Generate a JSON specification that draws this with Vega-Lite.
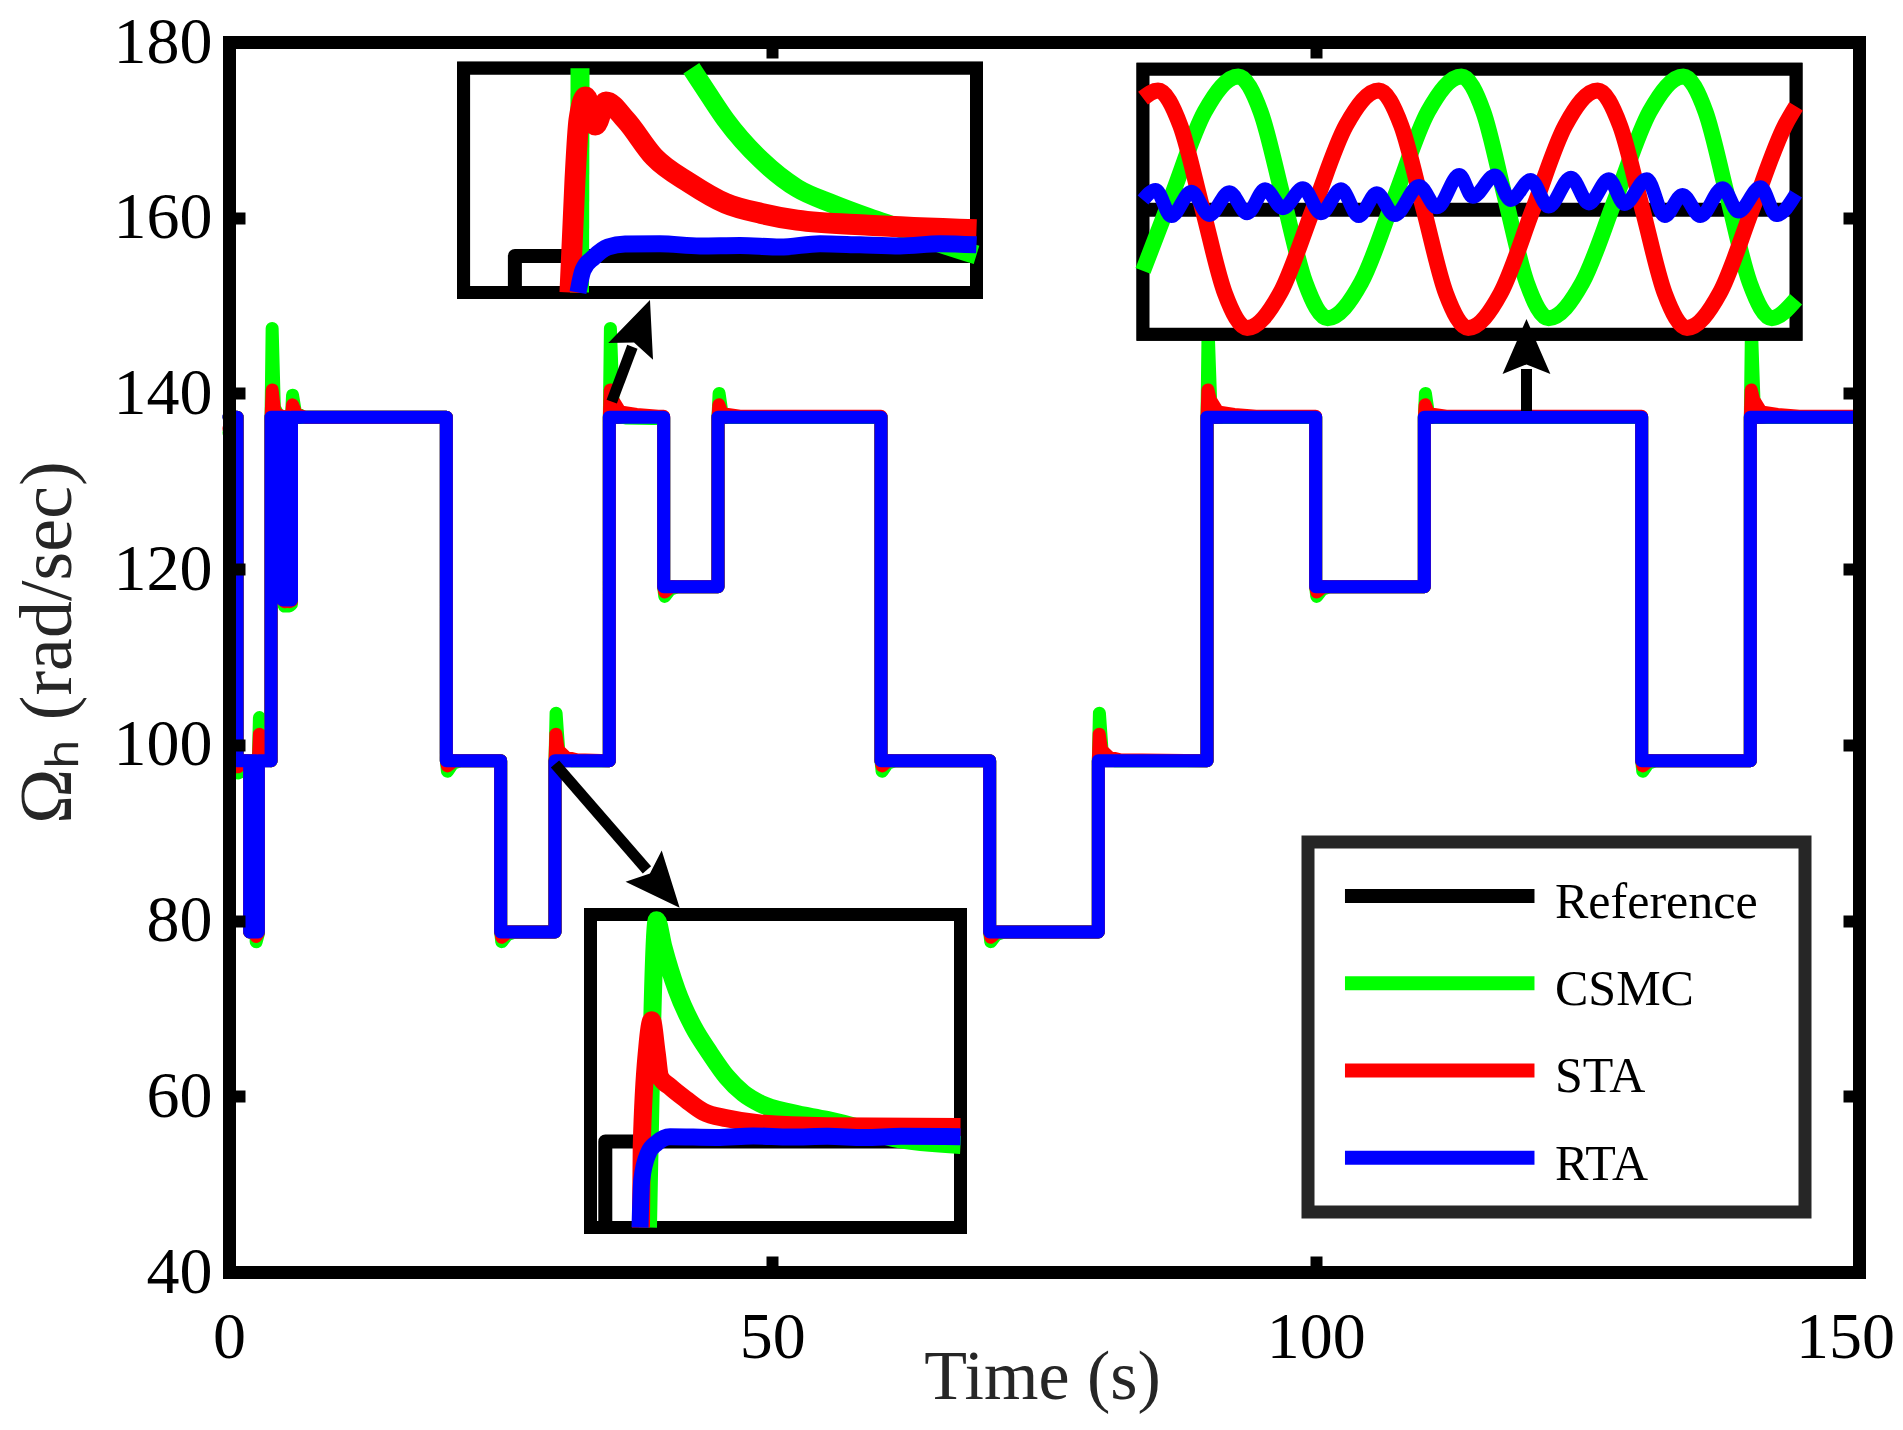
{
"$schema": "https://vega.github.io/schema/vega-lite/v6.json",
"width": 1630, "height": 1230,
"autosize": {"type": "none"},
"padding": {"left": 229, "top": 42, "right": 44, "bottom": 158},
"background": "white",
"config": {"font": "Liberation Serif", "view": {"stroke": null}, "legend": {"disable": true}},
"datasets": {
"main": [
{"s":"Reference","t":0,"v":137.3},{"s":"Reference","t":0.74,"v":137.3},{"s":"Reference","t":0.74,"v":98.2},{"s":"Reference","t":1.9,"v":98.2},{"s":"Reference","t":1.9,"v":78.7},{"s":"Reference","t":2.05,"v":78.7},{"s":"Reference","t":2.05,"v":98.2},{"s":"Reference","t":2.2,"v":98.2},{"s":"Reference","t":2.2,"v":78.7},{"s":"Reference","t":2.35,"v":78.7},{"s":"Reference","t":2.35,"v":98.2},{"s":"Reference","t":2.5,"v":98.2},{"s":"Reference","t":2.5,"v":78.7},{"s":"Reference","t":2.7,"v":78.7},{"s":"Reference","t":2.7,"v":98.2},{"s":"Reference","t":3.87,"v":98.2},{"s":"Reference","t":3.87,"v":137.3},{"s":"Reference","t":4.95,"v":137.3},{"s":"Reference","t":4.95,"v":116.5},{"s":"Reference","t":5.1,"v":116.5},{"s":"Reference","t":5.1,"v":137.3},{"s":"Reference","t":5.25,"v":137.3},{"s":"Reference","t":5.25,"v":116.5},{"s":"Reference","t":5.4,"v":116.5},{"s":"Reference","t":5.4,"v":137.3},{"s":"Reference","t":5.55,"v":137.3},{"s":"Reference","t":5.55,"v":116.5},{"s":"Reference","t":5.75,"v":116.5},{"s":"Reference","t":5.75,"v":137.3},{"s":"Reference","t":20,"v":137.3},{"s":"Reference","t":20,"v":98.2},{"s":"Reference","t":25,"v":98.2},{"s":"Reference","t":25,"v":78.7},{"s":"Reference","t":30,"v":78.7},{"s":"Reference","t":30,"v":98.2},{"s":"Reference","t":35,"v":98.2},{"s":"Reference","t":35,"v":137.3},{"s":"Reference","t":40,"v":137.3},{"s":"Reference","t":40,"v":118},{"s":"Reference","t":45,"v":118},{"s":"Reference","t":45,"v":137.3},{"s":"Reference","t":60,"v":137.3},{"s":"Reference","t":60,"v":98.2},{"s":"Reference","t":70,"v":98.2},{"s":"Reference","t":70,"v":78.7},{"s":"Reference","t":80,"v":78.7},{"s":"Reference","t":80,"v":98.2},{"s":"Reference","t":90,"v":98.2},{"s":"Reference","t":90,"v":137.3},{"s":"Reference","t":100,"v":137.3},{"s":"Reference","t":100,"v":118},{"s":"Reference","t":110,"v":118},{"s":"Reference","t":110,"v":137.3},{"s":"Reference","t":130,"v":137.3},{"s":"Reference","t":130,"v":98.2},{"s":"Reference","t":140,"v":98.2},{"s":"Reference","t":140,"v":137.3},{"s":"Reference","t":150,"v":137.3},
{"s":"RTA","t":0,"v":137.3},{"s":"RTA","t":0.74,"v":137.3},{"s":"RTA","t":0.74,"v":98.2},{"s":"RTA","t":1.9,"v":98.2},{"s":"RTA","t":1.9,"v":78.7},{"s":"RTA","t":2.05,"v":78.7},{"s":"RTA","t":2.05,"v":98.2},{"s":"RTA","t":2.2,"v":98.2},{"s":"RTA","t":2.2,"v":78.7},{"s":"RTA","t":2.35,"v":78.7},{"s":"RTA","t":2.35,"v":98.2},{"s":"RTA","t":2.5,"v":98.2},{"s":"RTA","t":2.5,"v":78.7},{"s":"RTA","t":2.7,"v":78.7},{"s":"RTA","t":2.7,"v":98.2},{"s":"RTA","t":3.87,"v":98.2},{"s":"RTA","t":3.87,"v":137.3},{"s":"RTA","t":4.95,"v":137.3},{"s":"RTA","t":4.95,"v":116.5},{"s":"RTA","t":5.1,"v":116.5},{"s":"RTA","t":5.1,"v":137.3},{"s":"RTA","t":5.25,"v":137.3},{"s":"RTA","t":5.25,"v":116.5},{"s":"RTA","t":5.4,"v":116.5},{"s":"RTA","t":5.4,"v":137.3},{"s":"RTA","t":5.55,"v":137.3},{"s":"RTA","t":5.55,"v":116.5},{"s":"RTA","t":5.75,"v":116.5},{"s":"RTA","t":5.75,"v":137.3},{"s":"RTA","t":20,"v":137.3},{"s":"RTA","t":20,"v":98.2},{"s":"RTA","t":25,"v":98.2},{"s":"RTA","t":25,"v":78.7},{"s":"RTA","t":30,"v":78.7},{"s":"RTA","t":30,"v":98.2},{"s":"RTA","t":35,"v":98.2},{"s":"RTA","t":35,"v":137.3},{"s":"RTA","t":40,"v":137.3},{"s":"RTA","t":40,"v":118},{"s":"RTA","t":45,"v":118},{"s":"RTA","t":45,"v":137.3},{"s":"RTA","t":60,"v":137.3},{"s":"RTA","t":60,"v":98.2},{"s":"RTA","t":70,"v":98.2},{"s":"RTA","t":70,"v":78.7},{"s":"RTA","t":80,"v":78.7},{"s":"RTA","t":80,"v":98.2},{"s":"RTA","t":90,"v":98.2},{"s":"RTA","t":90,"v":137.3},{"s":"RTA","t":100,"v":137.3},{"s":"RTA","t":100,"v":118},{"s":"RTA","t":110,"v":118},{"s":"RTA","t":110,"v":137.3},{"s":"RTA","t":130,"v":137.3},{"s":"RTA","t":130,"v":98.2},{"s":"RTA","t":140,"v":98.2},{"s":"RTA","t":140,"v":137.3},{"s":"RTA","t":150,"v":137.3},
{"s":"CSMC","t":0,"v":135.5},{"s":"CSMC","t":0.25,"v":137.3},{"s":"CSMC","t":0.74,"v":137.3},{"s":"CSMC","t":0.74,"v":98.2},{"s":"CSMC","t":0.84,"v":96.8},{"s":"CSMC","t":1.2,"v":98.0},{"s":"CSMC","t":1.9,"v":98.2},{"s":"CSMC","t":1.9,"v":78.7},{"s":"CSMC","t":2.05,"v":78.7},{"s":"CSMC","t":2.05,"v":98.2},{"s":"CSMC","t":2.2,"v":98.2},{"s":"CSMC","t":2.2,"v":78.7},{"s":"CSMC","t":2.35,"v":78.7},{"s":"CSMC","t":2.35,"v":98.2},{"s":"CSMC","t":2.5,"v":98.2},{"s":"CSMC","t":2.5,"v":77.6},{"s":"CSMC","t":2.7,"v":78.5},{"s":"CSMC","t":2.7,"v":98.2},{"s":"CSMC","t":2.8,"v":103.1},{"s":"CSMC","t":3.0,"v":98.9},{"s":"CSMC","t":3.4,"v":98.3},{"s":"CSMC","t":3.87,"v":98.2},{"s":"CSMC","t":3.87,"v":137.3},{"s":"CSMC","t":3.97,"v":147.4},{"s":"CSMC","t":4.17,"v":138.4},{"s":"CSMC","t":4.6,"v":137.4},{"s":"CSMC","t":4.95,"v":137.3},{"s":"CSMC","t":4.95,"v":116.5},{"s":"CSMC","t":5.1,"v":115.8},{"s":"CSMC","t":5.1,"v":137.3},{"s":"CSMC","t":5.25,"v":137.3},{"s":"CSMC","t":5.25,"v":115.8},{"s":"CSMC","t":5.4,"v":116.0},{"s":"CSMC","t":5.4,"v":137.3},{"s":"CSMC","t":5.55,"v":137.3},{"s":"CSMC","t":5.55,"v":115.8},{"s":"CSMC","t":5.75,"v":116.0},{"s":"CSMC","t":5.75,"v":137.3},{"s":"CSMC","t":5.85,"v":139.8},{"s":"CSMC","t":6.1,"v":137.9},{"s":"CSMC","t":6.8,"v":137.3},
{"s":"CSMC","t":20,"v":137.3},{"s":"CSMC","t":20,"v":98.2},{"s":"CSMC","t":20.1,"v":97.0},{"s":"CSMC","t":20.6,"v":97.9},{"s":"CSMC","t":21.3,"v":98.2},
{"s":"CSMC","t":25,"v":98.2},{"s":"CSMC","t":25,"v":78.7},{"s":"CSMC","t":25.1,"v":77.6},{"s":"CSMC","t":25.6,"v":78.4},{"s":"CSMC","t":26.3,"v":78.7},
{"s":"CSMC","t":30,"v":78.7},{"s":"CSMC","t":30,"v":98.2},{"s":"CSMC","t":30.1,"v":103.6},{"s":"CSMC","t":30.35,"v":99.2},{"s":"CSMC","t":30.8,"v":98.4},{"s":"CSMC","t":31.5,"v":98.2},
{"s":"CSMC","t":35,"v":98.2},{"s":"CSMC","t":35,"v":137.3},{"s":"CSMC","t":35.1,"v":147.4},{"s":"CSMC","t":35.35,"v":138.6},{"s":"CSMC","t":35.8,"v":137.4},{"s":"CSMC","t":36.5,"v":137.2},{"s":"CSMC","t":39,"v":137.15},
{"s":"CSMC","t":40,"v":137.2},{"s":"CSMC","t":40,"v":118},{"s":"CSMC","t":40.1,"v":116.9},{"s":"CSMC","t":40.6,"v":117.7},{"s":"CSMC","t":41.3,"v":118},
{"s":"CSMC","t":45,"v":118},{"s":"CSMC","t":45,"v":137.3},{"s":"CSMC","t":45.1,"v":140.0},{"s":"CSMC","t":45.35,"v":137.9},{"s":"CSMC","t":46,"v":137.3},
{"s":"CSMC","t":60,"v":137.3},{"s":"CSMC","t":60,"v":98.2},{"s":"CSMC","t":60.1,"v":97.0},{"s":"CSMC","t":60.6,"v":97.9},{"s":"CSMC","t":61.3,"v":98.2},
{"s":"CSMC","t":70,"v":98.2},{"s":"CSMC","t":70,"v":78.7},{"s":"CSMC","t":70.1,"v":77.6},{"s":"CSMC","t":70.6,"v":78.4},{"s":"CSMC","t":71.3,"v":78.7},
{"s":"CSMC","t":80,"v":78.7},{"s":"CSMC","t":80,"v":98.2},{"s":"CSMC","t":80.1,"v":103.6},{"s":"CSMC","t":80.35,"v":99.2},{"s":"CSMC","t":80.8,"v":98.4},{"s":"CSMC","t":81.5,"v":98.2},
{"s":"CSMC","t":90,"v":98.2},{"s":"CSMC","t":90,"v":137.3},{"s":"CSMC","t":90.1,"v":147.4},{"s":"CSMC","t":90.35,"v":138.6},{"s":"CSMC","t":90.8,"v":137.4},{"s":"CSMC","t":91.5,"v":137.3},
{"s":"CSMC","t":100,"v":137.3},{"s":"CSMC","t":100,"v":118},{"s":"CSMC","t":100.1,"v":116.9},{"s":"CSMC","t":100.6,"v":117.7},{"s":"CSMC","t":101.3,"v":118},
{"s":"CSMC","t":110,"v":118},{"s":"CSMC","t":110,"v":137.3},{"s":"CSMC","t":110.1,"v":140.0},{"s":"CSMC","t":110.35,"v":137.9},{"s":"CSMC","t":111,"v":137.3},
{"s":"CSMC","t":130,"v":137.3},{"s":"CSMC","t":130,"v":98.2},{"s":"CSMC","t":130.1,"v":97.0},{"s":"CSMC","t":130.6,"v":97.9},{"s":"CSMC","t":131.3,"v":98.2},
{"s":"CSMC","t":140,"v":98.2},{"s":"CSMC","t":140,"v":137.3},{"s":"CSMC","t":140.1,"v":147.4},{"s":"CSMC","t":140.35,"v":138.6},{"s":"CSMC","t":140.8,"v":137.4},{"s":"CSMC","t":141.5,"v":137.3},
{"s":"CSMC","t":150,"v":137.3},
{"s":"STA","t":0,"v":136.0},{"s":"STA","t":0.25,"v":137.3},{"s":"STA","t":0.74,"v":137.3},{"s":"STA","t":0.74,"v":98.2},{"s":"STA","t":0.84,"v":97.5},{"s":"STA","t":1.2,"v":98.2},{"s":"STA","t":1.9,"v":98.2},{"s":"STA","t":1.9,"v":78.7},{"s":"STA","t":2.05,"v":78.7},{"s":"STA","t":2.05,"v":98.2},{"s":"STA","t":2.2,"v":98.2},{"s":"STA","t":2.2,"v":78.7},{"s":"STA","t":2.35,"v":78.7},{"s":"STA","t":2.35,"v":98.2},{"s":"STA","t":2.5,"v":98.2},{"s":"STA","t":2.5,"v":78.2},{"s":"STA","t":2.7,"v":78.6},{"s":"STA","t":2.7,"v":98.2},{"s":"STA","t":2.8,"v":101.2},{"s":"STA","t":3.0,"v":98.8},{"s":"STA","t":3.5,"v":98.3},{"s":"STA","t":3.87,"v":98.2},{"s":"STA","t":3.87,"v":137.3},{"s":"STA","t":3.97,"v":140.4},{"s":"STA","t":4.2,"v":137.9},{"s":"STA","t":4.6,"v":137.5},{"s":"STA","t":4.95,"v":137.4},{"s":"STA","t":4.95,"v":116.5},{"s":"STA","t":5.1,"v":116.3},{"s":"STA","t":5.1,"v":137.3},{"s":"STA","t":5.25,"v":137.3},{"s":"STA","t":5.25,"v":116.3},{"s":"STA","t":5.4,"v":116.4},{"s":"STA","t":5.4,"v":137.3},{"s":"STA","t":5.55,"v":137.3},{"s":"STA","t":5.55,"v":116.3},{"s":"STA","t":5.75,"v":116.4},{"s":"STA","t":5.75,"v":137.3},{"s":"STA","t":5.85,"v":138.7},{"s":"STA","t":6.2,"v":137.6},{"s":"STA","t":7,"v":137.3},
{"s":"STA","t":20,"v":137.3},{"s":"STA","t":20,"v":98.2},{"s":"STA","t":20.1,"v":97.6},{"s":"STA","t":20.7,"v":98.2},
{"s":"STA","t":25,"v":98.2},{"s":"STA","t":25,"v":78.7},{"s":"STA","t":25.1,"v":78.1},{"s":"STA","t":25.7,"v":78.7},
{"s":"STA","t":30,"v":78.7},{"s":"STA","t":30,"v":98.2},{"s":"STA","t":30.08,"v":101.2},{"s":"STA","t":30.3,"v":99.4},{"s":"STA","t":31,"v":98.6},{"s":"STA","t":32,"v":98.3},
{"s":"STA","t":35,"v":98.2},{"s":"STA","t":35,"v":137.3},{"s":"STA","t":35.08,"v":140.4},{"s":"STA","t":35.3,"v":139.3},{"s":"STA","t":36,"v":137.9},{"s":"STA","t":37.5,"v":137.6},{"s":"STA","t":39.5,"v":137.4},
{"s":"STA","t":40,"v":137.4},{"s":"STA","t":40,"v":118},{"s":"STA","t":40.1,"v":117.4},{"s":"STA","t":40.7,"v":118},
{"s":"STA","t":45,"v":118},{"s":"STA","t":45,"v":137.3},{"s":"STA","t":45.08,"v":138.7},{"s":"STA","t":45.4,"v":137.7},{"s":"STA","t":47,"v":137.4},
{"s":"STA","t":60,"v":137.4},{"s":"STA","t":60,"v":98.2},{"s":"STA","t":60.1,"v":97.6},{"s":"STA","t":60.7,"v":98.2},
{"s":"STA","t":70,"v":98.2},{"s":"STA","t":70,"v":78.7},{"s":"STA","t":70.1,"v":78.1},{"s":"STA","t":70.7,"v":78.7},
{"s":"STA","t":80,"v":78.7},{"s":"STA","t":80,"v":98.2},{"s":"STA","t":80.08,"v":101.2},{"s":"STA","t":80.3,"v":99.4},{"s":"STA","t":81,"v":98.6},{"s":"STA","t":82,"v":98.3},
{"s":"STA","t":90,"v":98.2},{"s":"STA","t":90,"v":137.3},{"s":"STA","t":90.08,"v":140.4},{"s":"STA","t":90.3,"v":139.3},{"s":"STA","t":91,"v":137.9},{"s":"STA","t":92.5,"v":137.6},{"s":"STA","t":94.5,"v":137.4},
{"s":"STA","t":100,"v":137.4},{"s":"STA","t":100,"v":118},{"s":"STA","t":100.1,"v":117.4},{"s":"STA","t":100.7,"v":118},
{"s":"STA","t":110,"v":118},{"s":"STA","t":110,"v":137.3},{"s":"STA","t":110.08,"v":138.7},{"s":"STA","t":110.4,"v":137.7},{"s":"STA","t":112,"v":137.4},
{"s":"STA","t":130,"v":137.4},{"s":"STA","t":130,"v":98.2},{"s":"STA","t":130.1,"v":97.6},{"s":"STA","t":130.7,"v":98.2},
{"s":"STA","t":140,"v":98.2},{"s":"STA","t":140,"v":137.3},{"s":"STA","t":140.08,"v":140.4},{"s":"STA","t":140.3,"v":139.3},{"s":"STA","t":141,"v":137.9},{"s":"STA","t":142.5,"v":137.6},{"s":"STA","t":144.5,"v":137.4},
{"s":"STA","t":150,"v":137.4}
],
"insA": [
{"s":"Reference","t":35.0,"v":136.65},{"s":"Reference","t":35.0,"v":137.3},{"s":"Reference","t":35.45,"v":137.3},
{"s":"CSMC","seg":"a","t":35.063,"v":136.65},{"s":"CSMC","seg":"a","t":35.0635,"v":140.65},
{"s":"CSMC","seg":"b","t":35.172,"v":140.65},{"s":"CSMC","seg":"b","t":35.1882,"v":140.2},{"s":"CSMC","seg":"b","t":35.2055,"v":139.73},{"s":"CSMC","seg":"b","t":35.2403,"v":139.01},{"s":"CSMC","seg":"b","t":35.2751,"v":138.51},{"s":"CSMC","seg":"b","t":35.31,"v":138.23},{"s":"CSMC","seg":"b","t":35.3448,"v":137.99},{"s":"CSMC","seg":"b","t":35.3796,"v":137.77},{"s":"CSMC","seg":"b","t":35.4144,"v":137.53},{"s":"CSMC","seg":"b","t":35.45,"v":137.32},
{"s":"STA","t":35.0537,"v":136.65},{"s":"STA","t":35.0586,"v":138.66},{"s":"STA","t":35.0625,"v":139.73},{"s":"STA","t":35.069,"v":140.14},{"s":"STA","t":35.0785,"v":139.64},{"s":"STA","t":35.0888,"v":140.05},{"s":"STA","t":35.108,"v":139.73},{"s":"STA","t":35.1356,"v":139.07},{"s":"STA","t":35.1707,"v":138.6},{"s":"STA","t":35.2055,"v":138.24},{"s":"STA","t":35.2403,"v":138.06},{"s":"STA","t":35.275,"v":137.94},{"s":"STA","t":35.3448,"v":137.85},{"s":"STA","t":35.45,"v":137.77},
{"s":"RTA","t":35.0615,"v":136.65},{"s":"RTA","t":35.0664,"v":137.05},{"s":"RTA","t":35.0771,"v":137.28},{"s":"RTA","t":35.0908,"v":137.46},{"s":"RTA","t":35.1074,"v":137.515},{"s":"RTA","t":35.1415,"v":137.52},{"s":"RTA","t":35.1805,"v":137.48},{"s":"RTA","t":35.2195,"v":137.49},{"s":"RTA","t":35.2585,"v":137.46},{"s":"RTA","t":35.2975,"v":137.52},{"s":"RTA","t":35.3365,"v":137.5},{"s":"RTA","t":35.3755,"v":137.48},{"s":"RTA","t":35.4145,"v":137.52},{"s":"RTA","t":35.45,"v":137.5}
],
"insB": [
{"s":"Reference","t":30.0,"v":96.0},{"s":"Reference","t":30.0,"v":98.2},{"s":"Reference","t":30.48,"v":98.2},
{"s":"CSMC","t":30.0577,"v":96.0},{"s":"CSMC","t":30.0695,"v":103.85},{"s":"CSMC","t":30.0784,"v":103.18},{"s":"CSMC","t":30.0965,"v":102.07},{"s":"CSMC","t":30.1189,"v":101.13},{"s":"CSMC","t":30.1415,"v":100.45},{"s":"CSMC","t":30.1641,"v":99.85},{"s":"CSMC","t":30.1865,"v":99.43},{"s":"CSMC","t":30.2091,"v":99.17},{"s":"CSMC","t":30.2541,"v":98.92},{"s":"CSMC","t":30.2992,"v":98.75},{"s":"CSMC","t":30.3442,"v":98.54},{"s":"CSMC","t":30.3888,"v":98.29},{"s":"CSMC","t":30.48,"v":98.11},
{"s":"STA","t":30.0482,"v":96.0},{"s":"STA","t":30.0492,"v":98.07},{"s":"STA","t":30.0568,"v":100.62},{"s":"STA","t":30.0627,"v":101.3},{"s":"STA","t":30.0695,"v":100.46},{"s":"STA","t":30.0739,"v":99.85},{"s":"STA","t":30.0874,"v":99.6},{"s":"STA","t":30.11,"v":99.26},{"s":"STA","t":30.1324,"v":98.96},{"s":"STA","t":30.1641,"v":98.79},{"s":"STA","t":30.2091,"v":98.66},{"s":"STA","t":30.2992,"v":98.59},{"s":"STA","t":30.48,"v":98.57},
{"s":"RTA","t":30.0469,"v":96.0},{"s":"RTA","t":30.0492,"v":97.21},{"s":"RTA","t":30.0581,"v":97.9},{"s":"RTA","t":30.0695,"v":98.16},{"s":"RTA","t":30.0874,"v":98.32},{"s":"RTA","t":30.15,"v":98.3},{"s":"RTA","t":30.2,"v":98.34},{"s":"RTA","t":30.25,"v":98.31},{"s":"RTA","t":30.3,"v":98.33},{"s":"RTA","t":30.35,"v":98.3},{"s":"RTA","t":30.4,"v":98.33},{"s":"RTA","t":30.48,"v":98.32}
],
"insC": [
{"s":"Reference","t":119.0,"v":137.3},{"s":"Reference","t":121.0,"v":137.3},
{"s":"CSMC","t":119.0,"v":137.069},{"s":"CSMC","t":119.0864,"v":137.347},{"s":"CSMC","t":119.189,"v":137.67},{"s":"CSMC","t":119.2919,"v":137.803},{"s":"CSMC","t":119.3602,"v":137.67},{"s":"CSMC","t":119.4288,"v":137.347},{"s":"CSMC","t":119.4971,"v":137.025},{"s":"CSMC","t":119.5654,"v":136.891},{"s":"CSMC","t":119.668,"v":137.025},{"s":"CSMC","t":119.7706,"v":137.347},{"s":"CSMC","t":119.8729,"v":137.67},{"s":"CSMC","t":119.9755,"v":137.803},{"s":"CSMC","t":120.0423,"v":137.67},{"s":"CSMC","t":120.1087,"v":137.347},{"s":"CSMC","t":120.1755,"v":137.025},{"s":"CSMC","t":120.2423,"v":136.891},{"s":"CSMC","t":120.3455,"v":137.025},{"s":"CSMC","t":120.4487,"v":137.347},{"s":"CSMC","t":120.5519,"v":137.67},{"s":"CSMC","t":120.6552,"v":137.803},{"s":"CSMC","t":120.7229,"v":137.67},{"s":"CSMC","t":120.7905,"v":137.347},{"s":"CSMC","t":120.8582,"v":137.025},{"s":"CSMC","t":120.9259,"v":136.891},{"s":"CSMC","t":121.0,"v":136.962},
{"s":"STA","t":119.0,"v":137.721},{"s":"STA","t":119.0459,"v":137.75},{"s":"STA","t":119.1142,"v":137.618},{"s":"STA","t":119.1825,"v":137.302},{"s":"STA","t":119.2508,"v":136.985},{"s":"STA","t":119.3191,"v":136.854},{"s":"STA","t":119.4199,"v":136.985},{"s":"STA","t":119.521,"v":137.302},{"s":"STA","t":119.6217,"v":137.618},{"s":"STA","t":119.7225,"v":137.75},{"s":"STA","t":119.7908,"v":137.618},{"s":"STA","t":119.8594,"v":137.302},{"s":"STA","t":119.9277,"v":136.985},{"s":"STA","t":119.996,"v":136.854},{"s":"STA","t":120.0953,"v":136.985},{"s":"STA","t":120.1945,"v":137.302},{"s":"STA","t":120.2934,"v":137.618},{"s":"STA","t":120.3927,"v":137.75},{"s":"STA","t":120.461,"v":137.618},{"s":"STA","t":120.5296,"v":137.302},{"s":"STA","t":120.5979,"v":136.985},{"s":"STA","t":120.6662,"v":136.854},{"s":"STA","t":120.7663,"v":136.985},{"s":"STA","t":120.8662,"v":137.302},{"s":"STA","t":120.9663,"v":137.618},{"s":"STA","t":121.0,"v":137.69},
{"s":"RTA","t":119.0,"v":137.337},{"s":"RTA","t":119.0389,"v":137.375},{"s":"RTA","t":119.0867,"v":137.276},{"s":"RTA","t":119.1482,"v":137.368},{"s":"RTA","t":119.2031,"v":137.28},{"s":"RTA","t":119.2646,"v":137.366},{"s":"RTA","t":119.3191,"v":137.287},{"s":"RTA","t":119.374,"v":137.377},{"s":"RTA","t":119.4285,"v":137.306},{"s":"RTA","t":119.49,"v":137.381},{"s":"RTA","t":119.5449,"v":137.287},{"s":"RTA","t":119.6064,"v":137.377},{"s":"RTA","t":119.661,"v":137.276},{"s":"RTA","t":119.7158,"v":137.362},{"s":"RTA","t":119.7706,"v":137.28},{"s":"RTA","t":119.8456,"v":137.39},{"s":"RTA","t":119.9005,"v":137.309},{"s":"RTA","t":119.9688,"v":137.431},{"s":"RTA","t":120.0098,"v":137.349},{"s":"RTA","t":120.0781,"v":137.429},{"s":"RTA","t":120.1259,"v":137.337},{"s":"RTA","t":120.1874,"v":137.412},{"s":"RTA","t":120.2423,"v":137.312},{"s":"RTA","t":120.3106,"v":137.421},{"s":"RTA","t":120.3654,"v":137.324},{"s":"RTA","t":120.4267,"v":137.415},{"s":"RTA","t":120.4747,"v":137.322},{"s":"RTA","t":120.543,"v":137.415},{"s":"RTA","t":120.5976,"v":137.276},{"s":"RTA","t":120.6524,"v":137.356},{"s":"RTA","t":120.7072,"v":137.276},{"s":"RTA","t":120.7755,"v":137.381},{"s":"RTA","t":120.8233,"v":137.293},{"s":"RTA","t":120.8916,"v":137.385},{"s":"RTA","t":120.9397,"v":137.28},{"s":"RTA","t":121.0,"v":137.36}
],
"leg": [{"s":"Reference"},{"s":"CSMC"},{"s":"STA"},{"s":"RTA"}],
"arrows": [
{"id":"A","t":35.22,"v":139.06,"t2":37.12,"v2":145.31,"tt":38.74,"tv":150.64},
{"id":"B","t":30.0,"v":97.82,"t2":38.46,"v2":85.76,"tt":41.47,"tv":81.46},
{"id":"C","t":119.4,"v":138.0,"t2":119.4,"v2":142.78,"tt":119.4,"tv":148.47}
]
},
"resolve": {"scale": {"x": "independent", "y": "independent"}},
"layer": [
{
 "data": {"name": "main"},
 "layer": [
  {"transform": [{"filter": "datum.s == 'Reference'"}],
   "mark": {"type": "line", "strokeWidth": 13, "strokeCap": "round", "strokeJoin": "round"},
   "encoding": {
    "x": {"field": "t", "type": "quantitative", "scale": {"domain": [0, 150], "nice": false, "zero": false},
     "axis": {"orient": "bottom", "values": [0, 50, 100, 150], "format": "d", "grid": false, "domain": true, "domainColor": "#000000", "domainWidth": 13, "domainCap": "square", "ticks": true, "tickColor": "#000000", "tickWidth": 12, "tickSize": -16, "labels": true, "labelFont": "Liberation Serif", "labelFontSize": 66, "labelColor": "#000000", "labelPadding": 101, "labelBaseline": "alphabetic", "labelAlign": "center", "labelOffset": {"condition": {"test": "datum.value == 150", "value": -14}, "value": 0}, "labelFlush": false, "labelOverlap": false, "title": "Time (s)", "titleFont": "Liberation Serif", "titleFontSize": 70, "titleFontWeight": "normal", "titleColor": "#262626", "titleX": 813, "titleY": 126, "titleAlign": "center", "titleBaseline": "alphabetic", "zindex": 1}},
    "y": {"field": "v", "type": "quantitative", "scale": {"domain": [40, 180], "nice": false, "zero": false},
     "axis": {"orient": "left", "values": [40, 60, 80, 100, 120, 140, 160, 180], "format": "d", "grid": false, "domain": true, "domainColor": "#000000", "domainWidth": 13, "domainCap": "square", "ticks": true, "tickColor": "#000000", "tickWidth": 12, "tickSize": -16, "labelFont": "Liberation Serif", "labelFontSize": 66, "labelColor": "#000000", "labelPadding": 33, "labelBaseline": "middle", "labelAlign": "right", "labelOverlap": false, "title": "Ωₕ (rad/sec)", "titleFont": "Liberation Serif", "titleFontSize": 74, "titleFontWeight": "normal", "titleColor": "#262626", "titleX": -159, "titleY": 600, "titleAngle": 270, "titleAlign": "center", "titleBaseline": "alphabetic", "zindex": 1}},
    "color": {"field": "s", "type": "nominal", "scale": {"domain": ["Reference", "CSMC", "STA", "RTA"], "range": ["#000000", "#00ff00", "#ff0000", "#0000ff"]}, "legend": null}
   }},
  {"transform": [{"filter": "datum.s == 'CSMC'"}],
   "mark": {"type": "line", "strokeWidth": 13, "strokeCap": "round", "strokeJoin": "round"},
   "encoding": {"x": {"field": "t", "type": "quantitative", "axis": null}, "y": {"field": "v", "type": "quantitative", "axis": null}, "color": {"field": "s", "type": "nominal", "legend": null}}},
  {"transform": [{"filter": "datum.s == 'STA'"}],
   "mark": {"type": "line", "strokeWidth": 13, "strokeCap": "round", "strokeJoin": "round"},
   "encoding": {"x": {"field": "t", "type": "quantitative", "axis": null}, "y": {"field": "v", "type": "quantitative", "axis": null}, "color": {"field": "s", "type": "nominal", "legend": null}}},
  {"transform": [{"filter": "datum.s == 'RTA'"}],
   "mark": {"type": "line", "strokeWidth": 13, "strokeCap": "round", "strokeJoin": "round"},
   "encoding": {
    "x": {"field": "t", "type": "quantitative", "axis": {"orient": "top", "values": [50, 100], "grid": false, "domain": true, "domainColor": "#000000", "domainWidth": 13, "domainCap": "square", "ticks": true, "tickColor": "#000000", "tickWidth": 12, "tickSize": -16, "labels": false, "title": null, "zindex": 1}},
    "y": {"field": "v", "type": "quantitative", "axis": {"orient": "right", "values": [60, 80, 100, 120, 140, 160], "grid": false, "domain": true, "domainColor": "#000000", "domainWidth": 13, "domainCap": "square", "ticks": true, "tickColor": "#000000", "tickWidth": 12, "tickSize": -16, "labels": false, "title": null, "zindex": 1}},
    "color": {"field": "s", "type": "nominal", "legend": null}}}
 ]
},
{
 "data": {"name": "insA"},
 "layer": [
  {"transform": [{"filter": "datum.s == 'Reference'"}],
   "mark": {"type": "rect", "fill": "#ffffff", "stroke": "#000000", "strokeWidth": 13},
   "encoding": {
    "x": {"datum": 34.95, "type": "quantitative", "scale": {"domain": [34.95, 35.45], "range": [234.6, 747.5], "nice": false, "zero": false}, "axis": null},
    "x2": {"datum": 35.45},
    "y": {"datum": 136.65, "type": "quantitative", "scale": {"domain": [136.65, 140.65], "range": [250.5, 26.3], "nice": false, "zero": false}, "axis": null},
    "y2": {"datum": 140.65}}},
  {"transform": [{"filter": "datum.s == 'Reference'"}],
   "mark": {"type": "line", "strokeWidth": 14, "strokeCap": "butt", "strokeJoin": "round"},
   "encoding": {"x": {"field": "t", "type": "quantitative", "axis": null}, "y": {"field": "v", "type": "quantitative", "axis": null}, "color": {"field": "s", "type": "nominal", "legend": null}}},
  {"transform": [{"filter": "datum.s == 'CSMC'"}],
   "mark": {"type": "line", "strokeWidth": 19, "strokeCap": "butt", "strokeJoin": "round", "interpolate": "monotone"},
   "encoding": {"x": {"field": "t", "type": "quantitative", "axis": null}, "y": {"field": "v", "type": "quantitative", "axis": null}, "detail": {"field": "seg", "type": "nominal"}, "color": {"field": "s", "type": "nominal", "legend": null}}},
  {"transform": [{"filter": "datum.s == 'STA'"}],
   "mark": {"type": "line", "strokeWidth": 21, "strokeCap": "butt", "strokeJoin": "round", "interpolate": "monotone"},
   "encoding": {"x": {"field": "t", "type": "quantitative", "axis": null}, "y": {"field": "v", "type": "quantitative", "axis": null}, "color": {"field": "s", "type": "nominal", "legend": null}}},
  {"transform": [{"filter": "datum.s == 'RTA'"}],
   "mark": {"type": "line", "strokeWidth": 17, "strokeCap": "butt", "strokeJoin": "round", "interpolate": "monotone"},
   "encoding": {"x": {"field": "t", "type": "quantitative", "axis": null}, "y": {"field": "v", "type": "quantitative", "axis": null}, "color": {"field": "s", "type": "nominal", "legend": null}}}
 ]
},
{
 "data": {"name": "insB"},
 "layer": [
  {"transform": [{"filter": "datum.s == 'Reference'"}],
   "mark": {"type": "rect", "fill": "#ffffff", "stroke": "#000000", "strokeWidth": 13},
   "encoding": {
    "x": {"datum": 29.98, "type": "quantitative", "scale": {"domain": [29.98, 30.48], "range": [361.5, 731.5], "nice": false, "zero": false}, "axis": null},
    "x2": {"datum": 30.48},
    "y": {"datum": 96, "type": "quantitative", "scale": {"domain": [96, 104], "range": [1185.5, 872.5], "nice": false, "zero": false}, "axis": null},
    "y2": {"datum": 104}}},
  {"transform": [{"filter": "datum.s == 'Reference'"}],
   "mark": {"type": "line", "strokeWidth": 14, "strokeCap": "butt", "strokeJoin": "round"},
   "encoding": {"x": {"field": "t", "type": "quantitative", "axis": null}, "y": {"field": "v", "type": "quantitative", "axis": null}, "color": {"field": "s", "type": "nominal", "legend": null}}},
  {"transform": [{"filter": "datum.s == 'CSMC'"}],
   "mark": {"type": "line", "strokeWidth": 18, "strokeCap": "butt", "strokeJoin": "round", "interpolate": "monotone"},
   "encoding": {"x": {"field": "t", "type": "quantitative", "axis": null}, "y": {"field": "v", "type": "quantitative", "axis": null}, "color": {"field": "s", "type": "nominal", "legend": null}}},
  {"transform": [{"filter": "datum.s == 'STA'"}],
   "mark": {"type": "line", "strokeWidth": 18, "strokeCap": "butt", "strokeJoin": "round", "interpolate": "monotone"},
   "encoding": {"x": {"field": "t", "type": "quantitative", "axis": null}, "y": {"field": "v", "type": "quantitative", "axis": null}, "color": {"field": "s", "type": "nominal", "legend": null}}},
  {"transform": [{"filter": "datum.s == 'RTA'"}],
   "mark": {"type": "line", "strokeWidth": 17, "strokeCap": "butt", "strokeJoin": "round", "interpolate": "monotone"},
   "encoding": {"x": {"field": "t", "type": "quantitative", "axis": null}, "y": {"field": "v", "type": "quantitative", "axis": null}, "color": {"field": "s", "type": "nominal", "legend": null}}}
 ]
},
{
 "data": {"name": "insC"},
 "layer": [
  {"transform": [{"filter": "datum.s == 'Reference'"}],
   "mark": {"type": "rect", "fill": "#ffffff", "stroke": "#000000", "strokeWidth": 13},
   "encoding": {
    "x": {"datum": 119, "type": "quantitative", "scale": {"domain": [119, 121], "range": [914, 1567], "nice": false, "zero": false}, "axis": null},
    "x2": {"datum": 121},
    "y": {"datum": 136.83, "type": "quantitative", "scale": {"domain": [136.83, 137.83], "range": [292.3, 27.3], "nice": false, "zero": false}, "axis": null},
    "y2": {"datum": 137.83}}},
  {"transform": [{"filter": "datum.s == 'Reference'"}],
   "mark": {"type": "line", "strokeWidth": 14, "strokeCap": "butt", "strokeJoin": "round"},
   "encoding": {"x": {"field": "t", "type": "quantitative", "axis": null}, "y": {"field": "v", "type": "quantitative", "axis": null}, "color": {"field": "s", "type": "nominal", "legend": null}}},
  {"transform": [{"filter": "datum.s == 'CSMC'"}],
   "mark": {"type": "line", "strokeWidth": 16, "strokeCap": "butt", "strokeJoin": "round", "interpolate": "monotone"},
   "encoding": {"x": {"field": "t", "type": "quantitative", "axis": null}, "y": {"field": "v", "type": "quantitative", "axis": null}, "color": {"field": "s", "type": "nominal", "legend": null}}},
  {"transform": [{"filter": "datum.s == 'STA'"}],
   "mark": {"type": "line", "strokeWidth": 16, "strokeCap": "butt", "strokeJoin": "round", "interpolate": "monotone"},
   "encoding": {"x": {"field": "t", "type": "quantitative", "axis": null}, "y": {"field": "v", "type": "quantitative", "axis": null}, "color": {"field": "s", "type": "nominal", "legend": null}}},
  {"transform": [{"filter": "datum.s == 'RTA'"}],
   "mark": {"type": "line", "strokeWidth": 14, "strokeCap": "butt", "strokeJoin": "round", "interpolate": "monotone"},
   "encoding": {"x": {"field": "t", "type": "quantitative", "axis": null}, "y": {"field": "v", "type": "quantitative", "axis": null}, "color": {"field": "s", "type": "nominal", "legend": null}}}
 ]
},
{
 "data": {"name": "leg"},
 "layer": [
  {"transform": [{"filter": "datum.s == 'Reference'"}],
   "mark": {"type": "rect", "fill": "#ffffff", "stroke": "#262626", "strokeWidth": 13, "yOffset": -54, "y2Offset": 54.3},
   "encoding": {
    "x": {"datum": 0, "type": "quantitative", "scale": {"domain": [0, 1], "range": [1079, 1576], "nice": false, "zero": false}, "axis": null},
    "x2": {"datum": 1},
    "y": {"datum": "Reference", "type": "nominal", "scale": {"type": "point", "domain": ["Reference", "CSMC", "STA", "RTA"], "range": [854, 1115.7], "padding": 0}, "axis": null},
    "y2": {"datum": "RTA"}}},
  {"mark": {"type": "rule", "strokeWidth": 14, "strokeCap": "butt"},
   "encoding": {"x": {"datum": 0.0744, "type": "quantitative", "axis": null}, "x2": {"datum": 0.4557}, "y": {"field": "s", "type": "nominal", "axis": null}, "color": {"field": "s", "type": "nominal", "legend": null}}},
  {"mark": {"type": "text", "align": "left", "baseline": "alphabetic", "dy": 22, "fontSize": 50, "font": "Liberation Serif", "color": "#000000"},
   "encoding": {"x": {"datum": 0.497, "type": "quantitative", "axis": null}, "y": {"field": "s", "type": "nominal", "axis": null}, "text": {"field": "s", "type": "nominal"}}}
 ]
},
{
 "data": {"name": "arrows"},
 "layer": [
  {"mark": {"type": "rule", "strokeWidth": 11, "color": "#000000", "strokeCap": "butt"},
   "encoding": {
    "x": {"field": "t", "type": "quantitative", "scale": {"domain": [0, 150], "nice": false, "zero": false}, "axis": null},
    "y": {"field": "v", "type": "quantitative", "scale": {"domain": [40, 180], "nice": false, "zero": false}, "axis": null},
    "x2": {"field": "t2"}, "y2": {"field": "v2"}}},
  {"transform": [{"filter": "datum.id == 'A'"}],
   "mark": {"type": "point", "shape": "M0,0L0.87,2L0,1.65L-0.87,2Z", "size": 3025, "angle": 20.6, "filled": true, "color": "#000000", "opacity": 1, "strokeWidth": 0},
   "encoding": {"x": {"field": "tt", "type": "quantitative", "axis": null}, "y": {"field": "tv", "type": "quantitative", "axis": null}}},
  {"transform": [{"filter": "datum.id == 'B'"}],
   "mark": {"type": "point", "shape": "M0,0L0.87,2L0,1.65L-0.87,2Z", "size": 3025, "angle": 139.1, "filled": true, "color": "#000000", "opacity": 1, "strokeWidth": 0},
   "encoding": {"x": {"field": "tt", "type": "quantitative", "axis": null}, "y": {"field": "tv", "type": "quantitative", "axis": null}}},
  {"transform": [{"filter": "datum.id == 'C'"}],
   "mark": {"type": "point", "shape": "M0,0L0.87,2L0,1.65L-0.87,2Z", "size": 3025, "angle": 0, "filled": true, "color": "#000000", "opacity": 1, "strokeWidth": 0},
   "encoding": {"x": {"field": "tt", "type": "quantitative", "axis": null}, "y": {"field": "tv", "type": "quantitative", "axis": null}}}
 ]
}
]
}
